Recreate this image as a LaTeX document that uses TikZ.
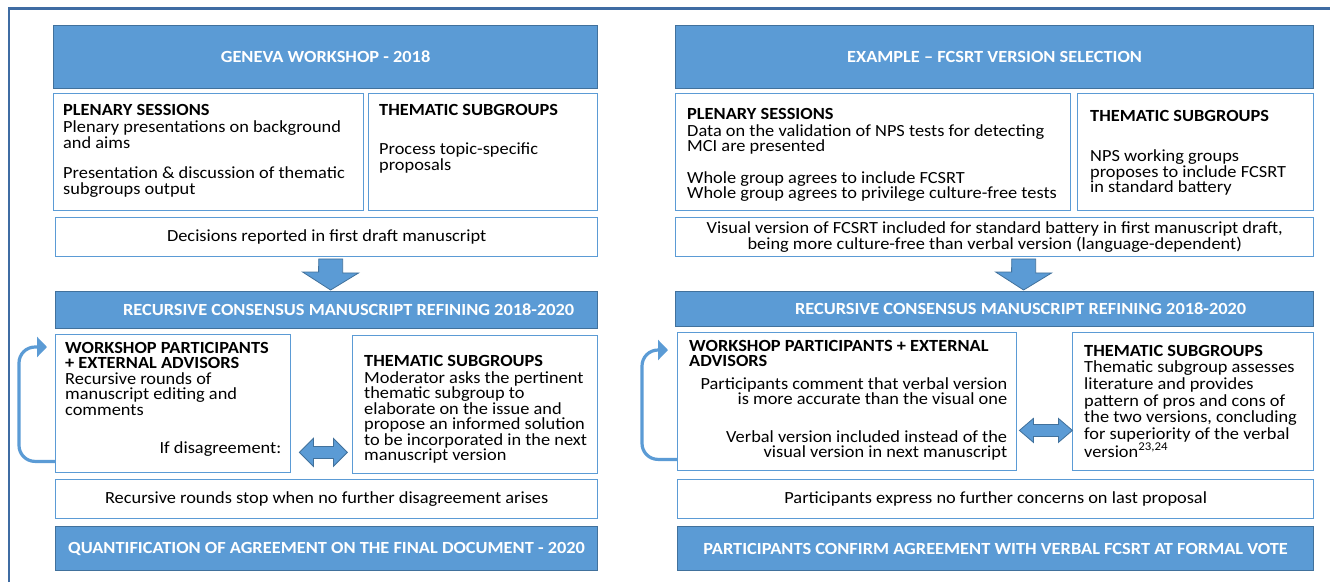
\documentclass[tikz,border=0pt]{standalone}
\usepackage{fontspec}
\setmainfont{Carlito}[FakeStretch=1.08]
\usetikzlibrary{positioning,calc,arrows.meta}

\definecolor{barblue}{HTML}{5B9BD5}
\definecolor{barline}{HTML}{41719C}
\definecolor{framecol}{HTML}{3F6CA3}

\begin{document}
\begin{tikzpicture}[x=1pt,y=-1pt,
    bar/.style={rectangle,fill=barblue,draw=barline,line width=1.2pt,anchor=north west,inner sep=0pt,text=white,align=center,font=\fontsize{17}{16}\selectfont\bfseries},
    box/.style={rectangle,draw=barblue,line width=1.4pt,fill=white,anchor=north west,inner sep=0pt,align=center,font=\fontsize{17}{15.5}\selectfont},
    txt/.style={anchor=north west,align=left,inner sep=0pt,font=\fontsize{17}{15.5}\selectfont},
    blk/.style={fill=barblue,draw=barline,line width=0.8pt,line join=miter},
    backarrow/.style={draw=barblue,line width=3.2pt,rounded corners=16pt,-{Triangle[width=20pt,length=10pt]}}]
		\useasboundingbox (0,0) rectangle (1330,582);
		\draw[framecol,line width=2.6pt] (9,582) -- (9,8.5) -- (1330,8.5);

		% left: workshop
		\node[bar,minimum width=544,minimum height=63] (1) at (53,25) {GENEVA WORKSHOP - 2018};
		\node[box,minimum width=310,minimum height=117] (2) at (53,93) {};
		\node[box,minimum width=229,minimum height=117] (3) at (368,93) {};
		\node[box,minimum width=542,minimum height=39] (4) at (55,217) {Decisions reported in first draft manuscript};
		\node[bar,minimum width=542,minimum height=37] (5) at (55,291) {\hspace*{44pt}RECURSIVE CONSENSUS MANUSCRIPT REFINING 2018-2020};
		\node[box,minimum width=235,minimum height=138] (6) at (55,334) {};
		\node[box,minimum width=245,minimum height=138] (7) at (352,335) {};
		\node[box,minimum width=542,minimum height=39] (8) at (55,479) {Recursive rounds stop when no further disagreement arises};
		\node[bar,minimum width=542,minimum height=44] (9) at (55,526) {QUANTIFICATION OF AGREEMENT ON THE FINAL DOCUMENT - 2020};

		\node[txt] (2a) at ($(2.north west)+(10,11)$) {\textbf{PLENARY SESSIONS}\\[2pt]Plenary presentations on background\\and aims\\[15pt]Presentation \& discussion of thematic\\subgroups output};
		\node[txt] (3a) at ($(3.north west)+(11,11)$) {\textbf{THEMATIC SUBGROUPS}\\[24pt]Process topic-specific\\proposals};
		\node[txt] (6a) at ($(6.north west)+(10,8)$) {\textbf{WORKSHOP PARTICIPANTS}\\\textbf{+ EXTERNAL ADVISORS}\\Recursive rounds of\\manuscript editing and\\comments};
		\node[txt,anchor=base east] (6b) at ($(6.south east)+(-10,-20)$) {If disagreement:};
		\node[txt] (7a) at ($(7.north west)+(12,20)$) {\textbf{THEMATIC SUBGROUPS}\\[1.5pt]Moderator asks the pertinent\\thematic subgroup to\\elaborate on the issue and\\propose an informed solution\\to be incorporated in the next\\manuscript version};

		% right: example
		\node[bar,minimum width=638,minimum height=63] (10) at (675,25) {EXAMPLE -- FCSRT VERSION SELECTION};
		\node[box,minimum width=395,minimum height=117] (11) at (675,93) {};
		\node[box,minimum width=236,minimum height=117] (12) at (1077,93) {};
		\node[box,minimum width=638,minimum height=39] (13) at (675,217) {Visual version of FCSRT included for standard battery in first manuscript draft,\\being more culture-free than verbal version (language-dependent)};
		\node[bar,minimum width=638,minimum height=35] (14) at (675,291) {\hspace*{52pt}RECURSIVE CONSENSUS MANUSCRIPT REFINING 2018-2020};
		\node[box,minimum width=339,minimum height=138] (15) at (677,332) {};
		\node[box,minimum width=241,minimum height=138] (16) at (1072,332) {};
		\node[box,minimum width=636,minimum height=39] (17) at (677,479) {Participants express no further concerns on last proposal};
		\node[bar,minimum width=636,minimum height=44] (18) at (677,526) {PARTICIPANTS CONFIRM AGREEMENT WITH VERBAL FCSRT AT FORMAL VOTE};

		\node[txt] (11a) at ($(11.north west)+(12,15)$) {\textbf{PLENARY SESSIONS}\\[1.5pt]Data on the validation of NPS tests for detecting\\MCI are presented\\[16pt]Whole group agrees to include FCSRT\\Whole group agrees to privilege culture-free tests};
		\node[txt,font=\fontsize{17}{14}\selectfont] (12a) at ($(12.north west)+(13,17)$) {\textbf{THEMATIC SUBGROUPS}\\[26pt]NPS working groups\\proposes to include FCSRT\\in standard battery};
		\node[txt] (15a) at ($(15.north west)+(12,8)$) {\textbf{WORKSHOP PARTICIPANTS + EXTERNAL}\\\textbf{ADVISORS}};
		\node[txt,align=right,anchor=north east] (15b) at ($(15.north east)+(-10,45)$) {Participants comment that verbal version\\is more accurate than the visual one\\[22pt]Verbal version included instead of the\\visual version in next manuscript};
		\node[txt,font=\fontsize{17}{16.6}\selectfont] (16a) at ($(16.north west)+(12,13)$) {\textbf{THEMATIC SUBGROUPS}\\Thematic subgroup assesses\\literature and provides\\pattern of pros and cons of\\the two versions, concluding\\for superiority of the verbal\\version\textsuperscript{23,24}};

		% block arrows
		\draw[blk] ($(4.south)+(-8,1.5)$) -- ++(24,0) -- ++(0,14) -- ++(16,0) -- ($(5.north)+(4,-1)$) -- ++(-28,-18) -- ++(16,0) -- cycle;
		\draw[blk] ($(13.south)+(17,1.5)$) -- ++(24,0) -- ++(0,14) -- ++(16,0) -- ($(14.north)+(29,-1)$) -- ++(-28,-18) -- ++(16,0) -- cycle;
		\draw[blk] ($(6.south east)+(8,-21)$) -- ++(14,-14) -- ++(0,8) -- ++(20,0) -- ++(0,-8) -- ++(14,14) -- ++(-14,14) -- ++(0,-8) -- ++(-20,0) -- ++(0,8) -- cycle;
		\draw[blk] ($(15.south east)+(2,-41)$) -- ++(14,-12) -- ++(0,6) -- ++(25,0) -- ++(0,-6) -- ++(14,12) -- ++(-14,12) -- ++(0,-6) -- ++(-25,0) -- ++(0,6) -- cycle;

		% feedback loops
		\draw[backarrow] ($(6.south west)+(0,-12)$) -- ++(-36,0) |- ($(6.north west)+(-8,13)$);
		\draw[backarrow] ($(15.south west)+(0,-12)$) -- ++(-35,0) |- ($(15.north west)+(-9,18)$);
	\end{tikzpicture}
\end{document}
